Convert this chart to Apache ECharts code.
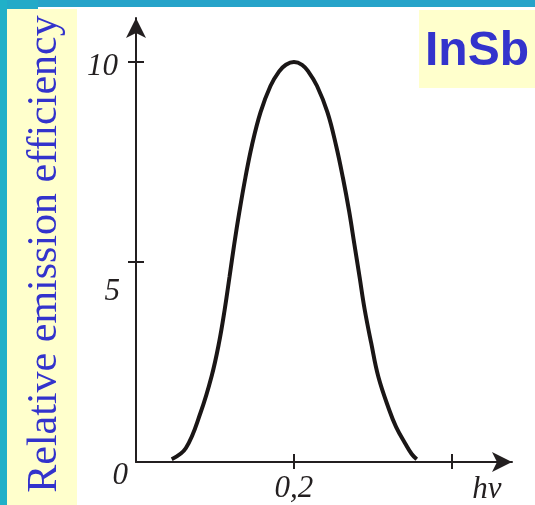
<!DOCTYPE html>
<html>
<head>
<meta charset="utf-8">
<script src="https://cdn.jsdelivr.net/npm/echarts@6/dist/echarts.min.js"></script>
<style>
  html, body { margin: 0; padding: 0; background: #ffffff; }
  #chart { width: 535px; height: 505px; }
</style>
</head>
<body>
<div id="chart"></div>
<script>
// photon energy hv
var hv = [0.1226, 0.1316, 0.1410, 0.1479, 0.1525, 0.1561, 0.1592, 0.1622,
          0.1655, 0.1692, 0.1734, 0.1788, 0.1851, 0.1905, 0.1949, 0.2000,
          0.2051, 0.2091, 0.2146, 0.2212, 0.2266, 0.2310, 0.2349, 0.2382, 0.2415, 0.2448,
          0.2489, 0.2534, 0.2603, 0.2646, 0.2703, 0.2745, 0.2777];
// relative emission efficiency
var eff = [0.07, 0.35, 1.25, 2.15, 2.97, 3.80, 4.63, 5.45,
           6.27, 7.10, 7.92, 8.74, 9.40, 9.76, 9.93, 10,
           9.93, 9.76, 9.40, 8.74, 7.92, 7.10, 6.27, 5.45, 4.63, 3.80,
           2.97, 2.13, 1.30, 0.88, 0.47, 0.20, 0.07];

var xTickValues = [0.2, 0.3];
var xLabelValues = [0.2];
var xLabelTexts = ['0,2'];
var yTickValues = [5, 10];
var yLabelValues = [0, 5, 10];
var yLabelTexts = ['0', '5', '10'];

var yTitle = 'Relative emission efficiency';
var xTitle = 'hν';
var material = 'InSb';

var axisColor = '#231f20';
var blue = '#3333cc';
var serif = '"Liberation Serif", "DejaVu Serif", serif';

var points = [];
for (var i = 0; i < hv.length; i++) {
	points.push([hv[i], eff[i]]);
}

var chart = echarts.init(document.getElementById('chart'));

var option = {
	animation: false,
	backgroundColor: '#ffffff',
	grid: { left: 136, right: 23, top: 18, bottom: 43 },
	xAxis: [{
		type: 'value', min: 0.1, max: 0.338,
		splitLine: { show: false },
		axisLine: { lineStyle: { color: axisColor, width: 2 }, symbol: ['none', 'arrow'], symbolSize: [15, 20] },
		axisTick: { show: true, length: 7, lineStyle: { color: axisColor, width: 2 }, customValues: xTickValues },
		axisLabel: {
			customValues: xLabelValues, margin: 11,
			color: axisColor, fontFamily: serif, fontStyle: 'italic', fontSize: 31,
			formatter: function (v) {
				var k = xLabelValues.indexOf(v);
				return k >= 0 ? xLabelTexts[k] : '';
			}
		},
		name: xTitle, nameLocation: 'end', nameGap: -25,
		nameTextStyle: { color: axisColor, fontFamily: serif, fontStyle: 'italic', fontSize: 31,
			align: 'center', verticalAlign: 'top', padding: [12, 0, 0, 0] }
	}, {
		type: 'value', min: 0.1, max: 0.338, position: 'bottom', offset: 0,
		splitLine: { show: false },
		axisLine: { show: false },
		axisTick: { show: true, inside: true, length: 8, lineStyle: { color: axisColor, width: 2 }, customValues: xTickValues },
		axisLabel: { show: false }
	}],
	yAxis: [{
		type: 'value', min: 0, max: 11.1,
		splitLine: { show: false },
		axisLine: { show: true, lineStyle: { color: axisColor, width: 2 }, symbol: ['none', 'arrow'], symbolSize: [15, 20] },
		axisTick: { show: true, length: 8, lineStyle: { color: axisColor, width: 2 }, customValues: yTickValues },
		axisLabel: {
			customValues: yLabelValues, margin: 8,
			formatter: function (v) {
				var k = yLabelValues.indexOf(v);
				return k >= 0 ? '{y' + k + '|' + yLabelTexts[k] + '}' : '';
			},
			rich: {
				y0: { color: axisColor, fontFamily: serif, fontStyle: 'italic', fontSize: 31, padding: [28, 0, 0, 0] },
				y1: { color: axisColor, fontFamily: serif, fontStyle: 'italic', fontSize: 31, padding: [60, 8, 0, 0] },
				y2: { color: axisColor, fontFamily: serif, fontStyle: 'italic', fontSize: 31, padding: [10, 10, 0, 0] }
			}
		}
	}, {
		type: 'value', min: 0, max: 11.1, position: 'left', offset: 0,
		splitLine: { show: false },
		axisLine: { show: false },
		axisTick: { show: true, inside: true, length: 8, lineStyle: { color: axisColor, width: 2 }, customValues: yTickValues },
		axisLabel: { show: false }
	}],
	series: [{
		type: 'line',
		data: points,
		smooth: 0.4,
		showSymbol: false,
		lineStyle: { color: '#1a1616', width: 4, cap: 'butt' },
		z: 5
	}],
	graphic: [
		{ type: 'rect', z: -10, shape: { x: 0, y: 0, width: 38, height: 9 }, style: { fill: '#22aac8' } },
		{ type: 'rect', z: -10, shape: { x: 38, y: 0, width: 497, height: 7 }, style: { fill: '#26a3c9' } },
		{ type: 'rect', z: -10, shape: { x: 0, y: 0, width: 7, height: 505 }, style: { fill: '#20b0c8' } },
		{ type: 'rect', z: -10, shape: { x: 7, y: 9, width: 70, height: 496 }, style: { fill: '#ffffcc' } },
		{ type: 'rect', z: -10, shape: { x: 419, y: 10, width: 116, height: 78 }, style: { fill: '#ffffcc' } },
		{ type: 'text', z: 10, x: 477, y: 52, style: {
			text: material, fill: blue, align: 'center', verticalAlign: 'middle',
			font: 'bold 48px "Liberation Sans", Arial, sans-serif' } },
		{ type: 'text', z: 10, x: 45, y: 254, rotation: Math.PI / 2, style: {
			text: yTitle, fill: blue, align: 'center', verticalAlign: 'middle',
			font: '42px "Liberation Serif", "Times New Roman", serif' } }
	]
};

chart.setOption(option);
</script>
</body>
</html>
